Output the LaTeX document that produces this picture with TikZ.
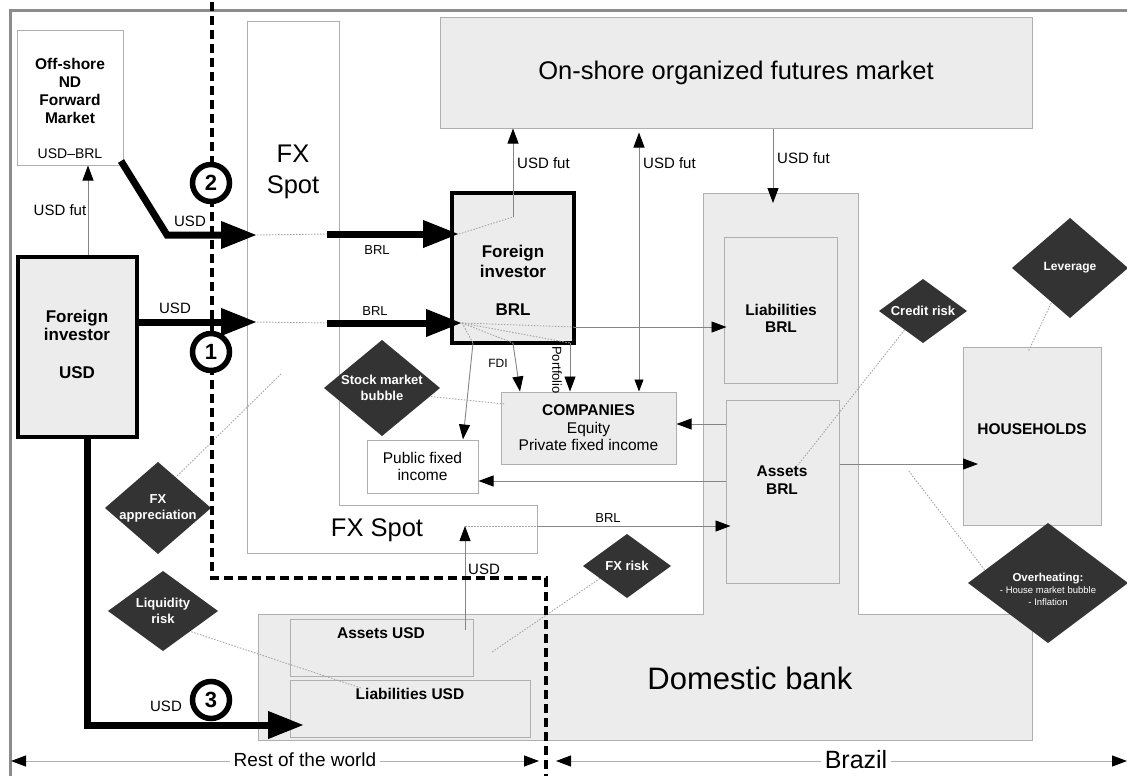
\documentclass[tikz,border=0pt]{standalone}
\usepackage{fontspec}
\setmainfont{Liberation Sans}
\usetikzlibrary{arrows.meta}
\definecolor{boxfill}{HTML}{ECECEC}
\definecolor{boxline}{HTML}{AFAFAF}
\definecolor{riskfill}{HTML}{333333}
\definecolor{wirecol}{HTML}{858585}
\definecolor{dotcol}{HTML}{A5A5A5}
\definecolor{framecol}{HTML}{8C8C8C}
% dark risk diamond around a centre coordinate <name>c
\newcommand\riskshape[5]{%
  \fill[riskfill] ([xshift=-#2pt]#1c) -- ([yshift=#3pt]#1c) -- ([xshift=#2pt]#1c) -- ([yshift=-#3pt]#1c) -- cycle;
  \node[risklabel,#5] (#1) at (#1c) {#4};}
\begin{document}
\begin{tikzpicture}[x=1pt,y=-1pt,
  box/.style={draw=boxline,fill=boxfill,line width=1pt,inner sep=0pt},
  wbox/.style={box,fill=white},
  heavybox/.style={draw=black,fill=boxfill,line width=3.5pt,inner sep=0pt},
  txt/.style={inner sep=0pt,align=center,font=\fontsize{15.5}{17.5}\selectfont},
  btxt/.style={inner sep=0pt,align=center,font=\bfseries\fontsize{15.5}{17.5}\selectfont},
  lbl/.style={inner sep=0pt,font=\fontsize{15}{17}\selectfont},
  slbl/.style={inner sep=0pt,font=\fontsize{13}{15}\selectfont},
  big/.style={inner sep=0pt,align=center,font=\fontsize{25.5}{31}\selectfont},
  risklabel/.style={inner sep=0pt,align=center,text=white,font=\bfseries\fontsize{13}{16}\selectfont},
  smallflow/.style={draw=wirecol,line width=0.9pt,-{Triangle[length=15pt,width=11pt,color=black]}},
  dualflow/.style={draw=wirecol,line width=0.9pt,{Triangle[length=12pt,width=9pt,color=black]}-{Triangle[length=15pt,width=11pt,color=black]}},
  passdot/.style={draw=dotcol,line width=0.9pt,dash pattern=on 1.5pt off 1.5pt},
  bigflow/.style={draw=black,line width=7pt,-{Triangle[length=36pt,width=26pt]}},
  stepnum/.style={circle,draw=black,line width=5.5pt,fill=white,minimum size=37pt,inner sep=0pt,font=\bfseries\fontsize{22}{22}\selectfont},
  divider/.style={draw=black,line width=4pt,dash pattern=on 9pt off 5pt},
  extent/.style={draw=boxline,line width=1pt,{Triangle[length=15pt,width=11pt,color=black]}-{Triangle[length=15pt,width=11pt,color=black]}},
]
\useasboundingbox (0,0) rectangle (1127,776);
\fill[white] (0,0) rectangle (1127,776);

% outer frame
\draw[framecol,line width=3pt] (10,776) -- (10,11) -- (1127,11);

% ---------- markets and agents ----------
\node[box,big,minimum width=592pt,minimum height=110pt] (fut) at (736,73) {On-shore organized futures market};

\node[wbox,minimum width=106pt,minimum height=134pt] (offshore) at (70,98) {};
\node[btxt,font=\bfseries\fontsize{15.5}{18.3}\selectfont] (offshoreT) at (70,91) {Off-shore\\ND\\Forward\\Market};
\node[lbl,font=\fontsize{14}{16}\selectfont] (offshoreP) at (70,154) {USD–BRL};

% FX spot market (L-shaped)
\draw[boxline,fill=white,line width=1pt] (247,22) -- (339,22) -- (339,505) -- (537,505) -- (537,553) -- (247,553) -- cycle;
\node[big] (spotA) at (293,172) {FX\\Spot};
\node[big] (spotB) at (377,530) {FX Spot};

% domestic bank (inverted T)
\draw[boxline,fill=boxfill,line width=1pt] (703,193) -- (858,193) -- (858,614) -- (1032,614) -- (1032,740) -- (258,740) -- (258,614) -- (703,614) -- cycle;
\node[inner sep=0pt,font=\fontsize{31}{36}\selectfont] (bank) at (750,678) {Domestic bank};

\node[heavybox,minimum width=119pt,minimum height=180pt] (fiu) at (77.5,347) {};
\node[btxt,font=\bfseries\fontsize{17}{18}\selectfont] (fiuT) at (77,325) {Foreign\\investor};
\node[btxt,font=\bfseries\fontsize{17}{18}\selectfont] (fiuC) at (77,373) {USD};

\node[heavybox,minimum width=122pt,minimum height=150pt] (fib) at (513,268) {};
\node[btxt,font=\bfseries\fontsize{17}{20}\selectfont] (fibT) at (513,261) {Foreign\\investor};
\node[btxt,font=\bfseries\fontsize{17}{20}\selectfont] (fibC) at (513,310) {BRL};

\node[wbox,txt,minimum width=111pt,minimum height=53pt] (pub) at (422.5,466.5) {Public fixed\\income};
\node[box,txt,minimum width=175pt,minimum height=72pt] (comp) at (588.5,428) {\textbf{COMPANIES}\\Equity\\Private fixed income};

\node[box,minimum width=113pt,minimum height=146pt] (libr) at (780.5,310) {};
\node[btxt] (librT) at (781,318.5) {Liabilities\\BRL};
\node[box,minimum width=113pt,minimum height=183pt] (asbr) at (782.5,491.5) {};
\node[btxt] (asbrT) at (782,480) {Assets\\BRL};
\node[box,minimum width=138pt,minimum height=178pt] (hh) at (1032,436) {};
\node[btxt] (hhT) at (1032,429) {HOUSEHOLDS};

\node[box,minimum width=183pt,minimum height=57pt] (asusd) at (381.5,647.5) {};
\node[btxt] (asusdT) at (381,633) {Assets USD};
\node[box,minimum width=240pt,minimum height=57pt] (liusd) at (410,708.5) {};
\node[btxt] (liusdT) at (410,694) {Liabilities USD};

% ---------- risk links (start points hidden under the diamonds) ----------
\coordinate (stockc) at (382,388);
\coordinate (fxappc) at (158,508);
\coordinate (liqc) at (163,611);
\coordinate (fxriskc) at (627,566);
\coordinate (creditc) at (923,311);
\coordinate (leverc) at (1070,268);
\coordinate (heatc) at (1048,583);

\coordinate (fxappo) at (173,480);   \coordinate (fxappt) at (282,373);
\coordinate (liqo) at (180,628);     \coordinate (liqt) at (361,688);
\coordinate (stocko) at (425,396);   \coordinate (stockt) at (505,404);
\coordinate (fxrisko) at (605,575);  \coordinate (fxriskt) at (492,652);
\coordinate (credito) at (910,323);  \coordinate (creditt) at (798,465);
\coordinate (levero) at (1055,295);  \coordinate (levert) at (1028,352);
\coordinate (heato) at (990,577);    \coordinate (heatt) at (908,470);

\draw[passdot] (fxappo) -- (fxappt);
\draw[passdot] (liqo) -- (liqt);
\draw[passdot] (stocko) -- (stockt);
\draw[passdot] (fxrisko) -- (fxriskt);
\draw[passdot] (credito) -- (creditt);
\draw[passdot] (levero) -- (levert);
\draw[passdot] (heato) -- (heatt);

\riskshape{stock}{58}{48}{Stock market\\bubble}{}
\riskshape{fxapp}{53}{46}{FX\\appreciation}{}
\riskshape{liq}{55}{40}{Liquidity\\risk}{}
\riskshape{fxrisk}{44}{32}{FX risk}{}
\riskshape{credit}{44}{32}{Credit risk}{}
\riskshape{lever}{58}{50}{Leverage}{font=\bfseries\fontsize{12}{14}\selectfont}
\riskshape{heat}{80}{60}{{\bfseries\fontsize{11.5}{13}\selectfont Overheating:}\\- House market bubble\\- Inflation}{font=\fontsize{9.5}{12}\selectfont,yshift=-6pt}

% ---------- thin flows ----------
\coordinate (ufa) at (88,0);
\draw[smallflow] (fiu.north -| ufa) -- (offshore.south -| ufa);
\node[lbl] (ufaL) at (60,210) {USD fut};

\coordinate (b2e) at (459,234);
\coordinate (b1e) at (462,323);
\coordinate (fx1) at (513,217);
\draw[passdot] (b2e) -- (fx1);
\draw[smallflow] (fx1) -- (fut.south -| fx1);
\node[lbl,anchor=west] (uf1) at (517,163) {USD fut};

\coordinate (fx2) at (639,0);
\draw[dualflow,shorten >=4pt] (comp.north -| fx2) -- (fut.south -| fx2);
\node[lbl,anchor=west] (uf2) at (643,163) {USD fut};

\coordinate (fx3) at (773,203);
\draw[smallflow] (fut.south -| fx3) -- (fx3);
\node[lbl,anchor=west] (uf3) at (777,158) {USD fut};

\coordinate (l0) at (574,327);
\coordinate (p0) at (473,343);
\coordinate (p1) at (463,0);
\coordinate (c0) at (513,343);
\coordinate (c1) at (520,0);
\coordinate (q0) at (570,343);
\draw[passdot] (b1e) -- (l0);
\draw[passdot] (b1e) -- (p0);
\draw[passdot] (b1e) -- (c0);
\draw[passdot] (b1e) -- (q0);
\draw[smallflow] (l0) -- ([xshift=3pt]libr.west |- l0);
\draw[smallflow] (p0) -- (pub.north -| p1);
\draw[smallflow] (c0) -- (comp.north -| c1);
\draw[smallflow] (q0) -- (comp.north -| q0);
\node[inner sep=0pt,font=\fontsize{12}{14}\selectfont] (fdiL) at (498,363) {FDI};
\node[inner sep=0pt,font=\fontsize{13}{15}\selectfont,rotate=-90] (portL) at (557,370) {Portfolio};

\coordinate (r1) at (0,424);
\coordinate (r2) at (0,481);
\coordinate (r3) at (978,464);
\draw[smallflow] (asbr.west |- r1) -- (comp.east |- r1);
\draw[smallflow] (asbr.west |- r2) -- (pub.east |- r2);
\draw[smallflow] (asbr.east |- r3) -- (r3);

\coordinate (s0) at (465,526);
\coordinate (s1) at (537,526);
\coordinate (u0) at (465,630);
\draw[passdot] (s0) -- (s1);
\draw[smallflow] (s1) -- ([xshift=5pt]asbr.west |- s1);
\node[slbl] (brlS) at (608,518) {BRL};
\draw[smallflow] (u0) -- (s0);
\node[lbl] (usdS) at (484,569) {USD};

% ---------- geographic extents ----------
\coordinate (w0) at (11,761);
\coordinate (w1) at (539,761);
\coordinate (z0) at (556,761);
\coordinate (z1) at (1127,761);
\draw[extent] (w0) -- (w1);
\draw[extent] (z0) -- (z1);
\node[fill=white,inner sep=4pt,font=\fontsize{19}{22}\selectfont] (row) at (305,760) {Rest of the world};
\node[fill=white,inner sep=4pt,font=\fontsize{25}{28}\selectfont] (bra) at (856,760) {Brazil};

% ---------- border between rest of the world and Brazil ----------
\draw[divider] (212,2) -- (212,578) -- (546,578) -- (546,776);

% ---------- capital flows ----------
\coordinate (a1s) at (fiu.east |- b1e);
\coordinate (a1e) at (257,322);
\coordinate (a2s) at (121,161);
\coordinate (a2k) at (167,235);
\coordinate (a2e) at (257,235);
\coordinate (b2s) at (327,234);
\coordinate (b1s) at (327,323);
\coordinate (a3k) at (87,725);
\coordinate (a3e) at (304,725);
\draw[passdot] (a2e) -- (b2s);
\draw[passdot] (a1e) -- (b1s);
\draw[bigflow] (137,322) -- (a1e);
\draw[bigflow] (a2s) -- (a2k) -- (a2e);
\draw[bigflow] (fiu.south -| a3k) -- (a3k) -- (a3e);
\draw[bigflow] (b2s) -- (b2e);
\draw[bigflow] (b1s) -- (b1e);
\node[lbl] (usd1) at (175,308) {USD};
\node[lbl] (usd2) at (190,221) {USD};
\node[lbl] (usd3) at (166,706) {USD};
\node[slbl] (brl2) at (377,250) {BRL};
\node[slbl] (brl1) at (375,311) {BRL};

\node[stepnum] (n2) at (211,183) {2};
\node[stepnum] (n1) at (211,352) {1};
\node[stepnum] (n3) at (211,700) {3};
\end{tikzpicture}
\end{document}
